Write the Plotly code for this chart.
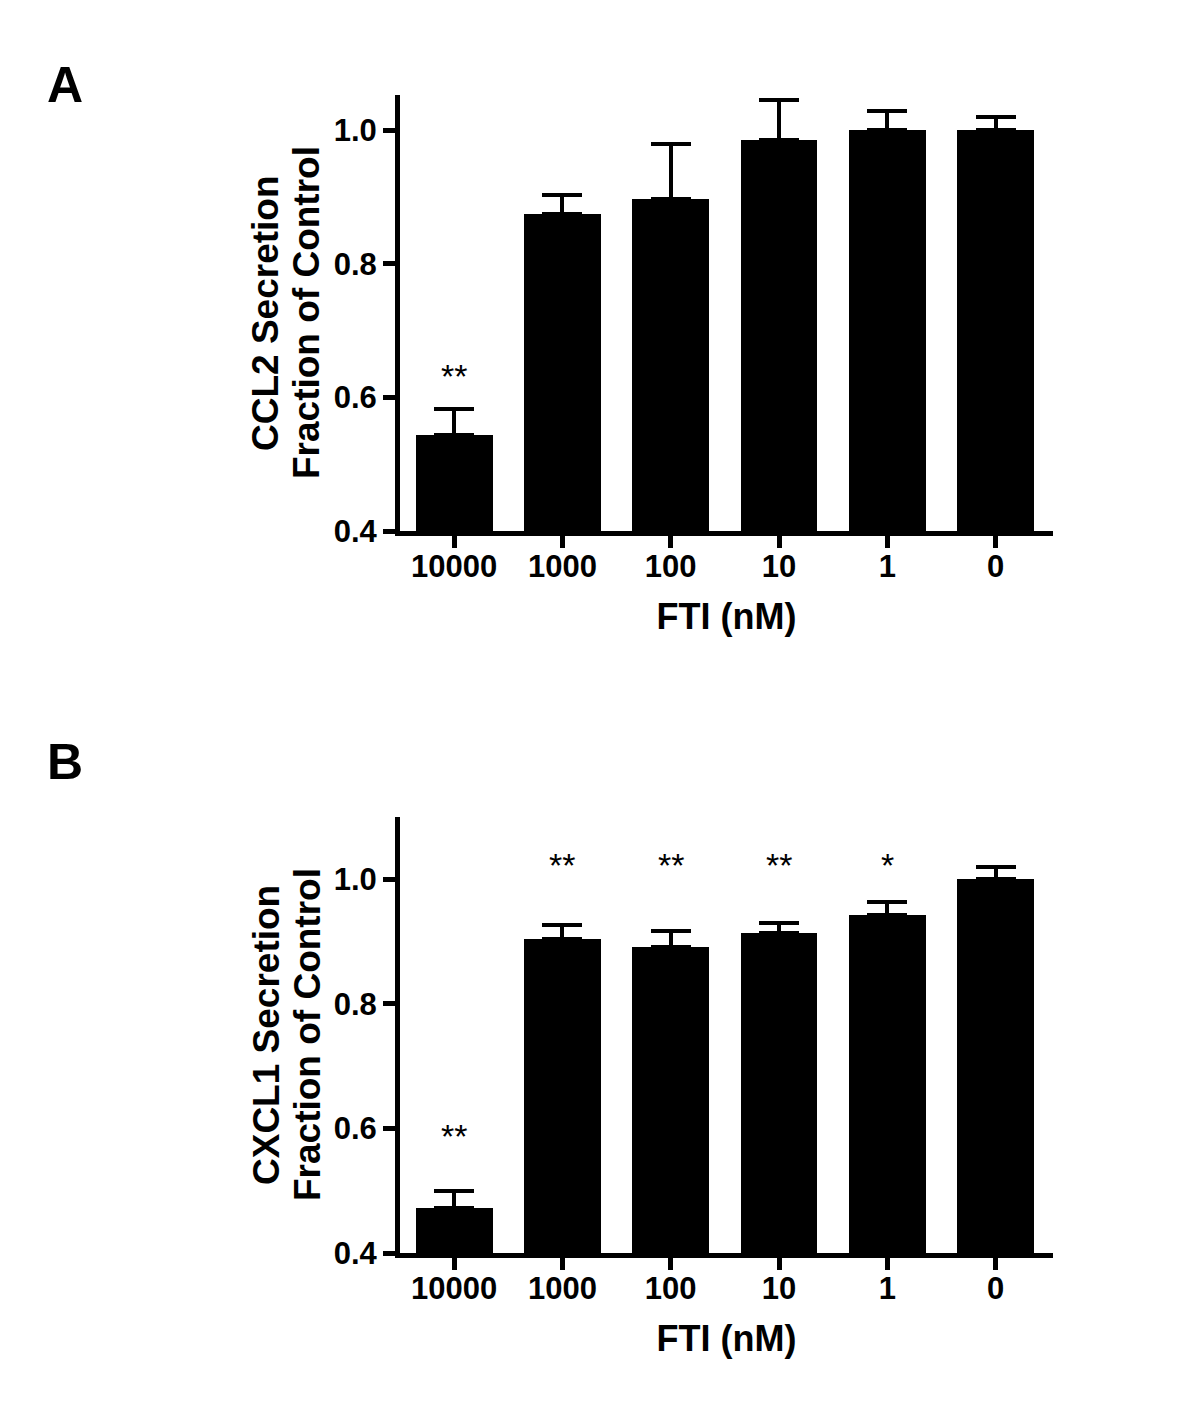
import plotly.graph_objects as go

categories = ["10000", "1000", "100", "10", "1", "0"]
ccl2_values = [0.544, 0.875, 0.897, 0.985, 1.0, 1.001]
ccl2_errors = [0.039, 0.028, 0.083, 0.061, 0.029, 0.019]
ccl2_stars = ["**", "", "", "", "", ""]
cxcl1_values = [0.473, 0.904, 0.892, 0.913, 0.942, 1.0]
cxcl1_errors = [0.027, 0.022, 0.025, 0.017, 0.021, 0.019]
cxcl1_stars = ["**", "**", "**", "**", "*", ""]
y_ticks = [0.4, 0.6, 0.8, 1.0]

FONT = "Liberation Sans, Arial, sans-serif"
OFF = 8  # default page body margin
W, H = 1184, 1383


def xp(px):
    return (px - OFF) / W


def yp(py):
    return 1 - (py - OFF) / H


fig = go.Figure()

panels = [
    dict(vals=ccl2_values, errs=ccl2_errors, stars=ccl2_stars,
         star_y=[0.632, 1.0, 1.0, 1.0, 1.0, 1.0],
         t1="CCL2 Secretion", t2="Fraction of Control", yrange=[0.4, 1.053],
         top=95, bottom=531, letter="A", letter_y=85, xa="x", ya="y"),
    dict(vals=cxcl1_values, errs=cxcl1_errors, stars=cxcl1_stars,
         star_y=[0.588, 1.023, 1.023, 1.023, 1.023, 1.023],
         t1="CXCL1 Secretion", t2="Fraction of Control", yrange=[0.4, 1.10],
         top=817, bottom=1253, letter="B", letter_y=762, xa="x2", ya="y2"),
]

x_idx = list(range(len(categories)))

for i, p in enumerate(panels):
    fig.add_trace(go.Bar(
        x=x_idx, y=[v - 0.4 for v in p["vals"]], base=0.4,
        width=0.71, marker=dict(color="black", line=dict(width=0)),
        error_y=dict(type="data", array=p["errs"], arrayminus=[0] * len(p["errs"]),
                     symmetric=False, color="black", thickness=4, width=20),
        xaxis=p["xa"], yaxis=p["ya"], showlegend=False,
    ))
    sfx = "" if i == 0 else "2"
    dom_y = [yp(p["bottom"]), yp(p["top"])]
    fig.update_layout(**{
        "xaxis" + sfx: dict(
            domain=[xp(400), xp(1053)], range=[-0.5, 5.53], anchor="y" + sfx,
            tickmode="array", tickvals=x_idx, ticktext=categories,
            showline=True, linewidth=5, linecolor="black",
            ticks="outside", ticklen=12, tickwidth=5, tickcolor="black",
            ticklabelstandoff=-8, automargin=False,
            tickfont=dict(family=FONT, size=31, color="black", weight="bold"),
            title=dict(text="FTI (nM)", standoff=22,
                       font=dict(family=FONT, size=36, color="black", weight="bold")),
            showgrid=False, zeroline=False, fixedrange=True,
        ),
        "yaxis" + sfx: dict(
            domain=dom_y, range=p["yrange"], anchor="x" + sfx,
            tickmode="array", tickvals=y_ticks, tickformat=".1f",
            showline=True, linewidth=5, linecolor="black",
            ticks="outside", ticklen=12, tickwidth=5, tickcolor="black",
            automargin=False,
            tickfont=dict(family=FONT, size=31, color="black", weight="bold"),
            showgrid=False, zeroline=False, fixedrange=True,
        ),
    })
    yc = (dom_y[0] + dom_y[1]) / 2
    for txt, cx in ((p["t1"], 266), (p["t2"], 307)):
        fig.add_annotation(x=xp(cx), y=yc, xref="paper", yref="paper", text=txt,
                           textangle=-90, showarrow=False, xanchor="center", yanchor="middle",
                           font=dict(family=FONT, size=37, color="black", weight="bold"))
    for j, s in enumerate(p["stars"]):
        if s:
            fig.add_annotation(x=j, y=p["star_y"][j], xref=p["xa"], yref=p["ya"], text=s,
                               showarrow=False,
                               font=dict(family=FONT, size=34, color="black"))
    fig.add_annotation(x=xp(65), y=yp(p["letter_y"]), xref="paper", yref="paper",
                       text=p["letter"], showarrow=False, xanchor="center", yanchor="middle",
                       font=dict(family=FONT, size=50, color="black", weight="bold"))

fig.update_layout(
    width=W, height=H, margin=dict(l=0, r=0, t=0, b=0, autoexpand=False),
    plot_bgcolor="white", paper_bgcolor="white", bargap=0,
)

fig.write_html("out.html")
